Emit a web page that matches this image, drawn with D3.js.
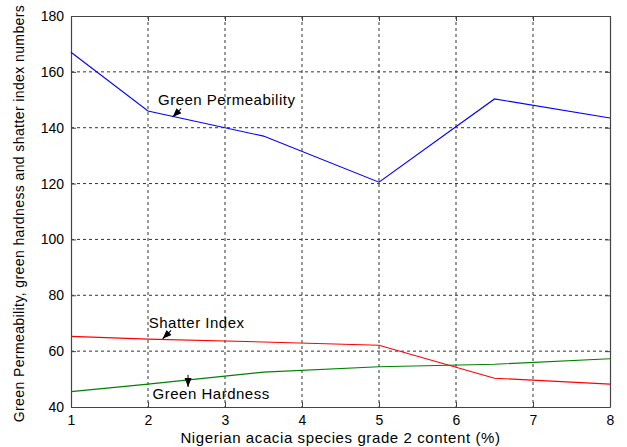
<!DOCTYPE html>
<html>
<head>
<meta charset="utf-8">
<script src="https://cdn.jsdelivr.net/npm/d3@7"></script>
<style>
  html, body { margin: 0; padding: 0; background: #fff; }
  svg { display: block; font-family: "Liberation Sans", Arial, sans-serif; }
</style>
</head>
<body>
<svg id="chart" width="627" height="447"></svg>
<script>
// Nigerian acacia species grade 2 content (%)
const content = [1, 2, 3.5, 5, 6.5, 8];
const greenPermeability = [167, 146, 137, 120.5, 150.3, 143.5];
const shatterIndex = [65.3, 64.3, 63.3, 62.1, 50.3, 48.2];
const greenHardness = [45.5, 48.2, 52.5, 54.4, 55.3, 57.3];

const xTicks = [1, 2, 3, 4, 5, 6, 7, 8];
const yTicks = [40, 60, 80, 100, 120, 140, 160, 180];

const series = [
  { name: "Green Permeability", values: greenPermeability, color: "#0000ff" },
  { name: "Shatter Index", values: shatterIndex, color: "#ff0000" },
  { name: "Green Hardness", values: greenHardness, color: "#008000" }
];

// Text labels with arrows, in data units: label anchor, arrow tip, arrow direction (deg)
const notes = [
  { text: "Green Permeability", lx: 2.13, ly: 148.2, tx: 2.32, ty: 143.8, angle: 225 },
  { text: "Shatter Index", lx: 2.01, ly: 68.2, tx: 2.19, ty: 64.4, angle: 225 },
  { text: "Green Hardness", lx: 2.06, ly: 42.8, tx: 2.52, ty: 47.2, angle: 270 }
];

const margin = { top: 16, right: 17, bottom: 40, left: 71 };
const W = 627, H = 447;
const svg = d3.select("#chart");
const iw = W - margin.left - margin.right;
const ih = H - margin.top - margin.bottom;

const x = d3.scaleLinear().domain([1, 8]).range([0, iw]);
const y = d3.scaleLinear().domain([40, 180]).range([ih, 0]);

const g = svg.append("g").attr("transform", `translate(${margin.left},${margin.top})`);

// dashed grid
g.append("g").selectAll("line").data(xTicks.slice(1, -1)).join("line")
  .attr("x1", d => x(d)).attr("x2", d => x(d)).attr("y1", 0).attr("y2", ih)
  .attr("stroke", "#333").attr("stroke-width", 1).attr("stroke-dasharray", "3,3");
g.append("g").selectAll("line").data(yTicks.slice(1, -1)).join("line")
  .attr("y1", d => y(d)).attr("y2", d => y(d)).attr("x1", 0).attr("x2", iw)
  .attr("stroke", "#333").attr("stroke-width", 1).attr("stroke-dasharray", "3,3");

// axes with inward ticks
const xAxis = g.append("g").attr("transform", `translate(0,${ih})`)
  .call(d3.axisBottom(x).tickValues(xTicks).tickFormat(d3.format("d")).tickSizeInner(-5).tickSizeOuter(0).tickPadding(8));
const yAxis = g.append("g")
  .call(d3.axisLeft(y).tickValues(yTicks).tickFormat(d3.format("d")).tickSizeInner(-5).tickSizeOuter(0).tickPadding(7));
const xAxisTop = g.append("g")
  .call(d3.axisTop(x).tickValues(xTicks).tickFormat("").tickSizeInner(-5).tickSizeOuter(0));
const yAxisRight = g.append("g").attr("transform", `translate(${iw},0)`)
  .call(d3.axisRight(y).tickValues(yTicks).tickFormat("").tickSizeInner(-5).tickSizeOuter(0));

[xAxis, yAxis, xAxisTop, yAxisRight].forEach(a => {
  a.select(".domain").attr("stroke", "#444").attr("stroke-width", 1.2);
  a.selectAll(".tick line").attr("stroke", "#444");
  a.selectAll(".tick text").attr("fill", "#000").style("font-size", "14px")
    .style("font-family", "'Liberation Sans', Arial, sans-serif");
});

// series lines
const line = d3.line().x((d, i) => x(content[i])).y(d => y(d));
g.append("g").selectAll("path").data(series).join("path")
  .attr("d", d => line(d.values))
  .attr("fill", "none").attr("stroke", d => d.color).attr("stroke-width", 1.1);

// labels and arrows
const ng = g.append("g");
notes.forEach(n => {
  ng.append("text").attr("x", x(n.lx)).attr("y", y(n.ly))
    .style("font-size", "15px").style("letter-spacing", "0.5px")
    .attr("fill", "#000").text(n.text);
  const a = ng.append("g")
    .attr("transform", `translate(${x(n.tx)},${y(n.ty)}) rotate(${-n.angle + 180})`);
  a.append("path").attr("d", "M0,0 L9,-3.5 L9,3.5 Z").attr("fill", "#000");
  a.append("line").attr("x1", 0).attr("y1", 0).attr("x2", 12).attr("y2", 0)
    .attr("stroke", "#000").attr("stroke-width", 1);
});

// axis titles
svg.append("text")
  .attr("x", margin.left + iw / 2).attr("y", 443)
  .attr("text-anchor", "middle").style("font-size", "15px").style("letter-spacing", "0.6px")
  .text("Nigerian acacia species grade 2 content (%)");
svg.append("text")
  .attr("transform", `translate(24,${margin.top + ih / 2 + 2}) rotate(-90)`)
  .attr("text-anchor", "middle").style("font-size", "14px").style("letter-spacing", "0.4px")
  .text("Green Permeability, green hardness and shatter index numbers");
</script>
</body>
</html>
